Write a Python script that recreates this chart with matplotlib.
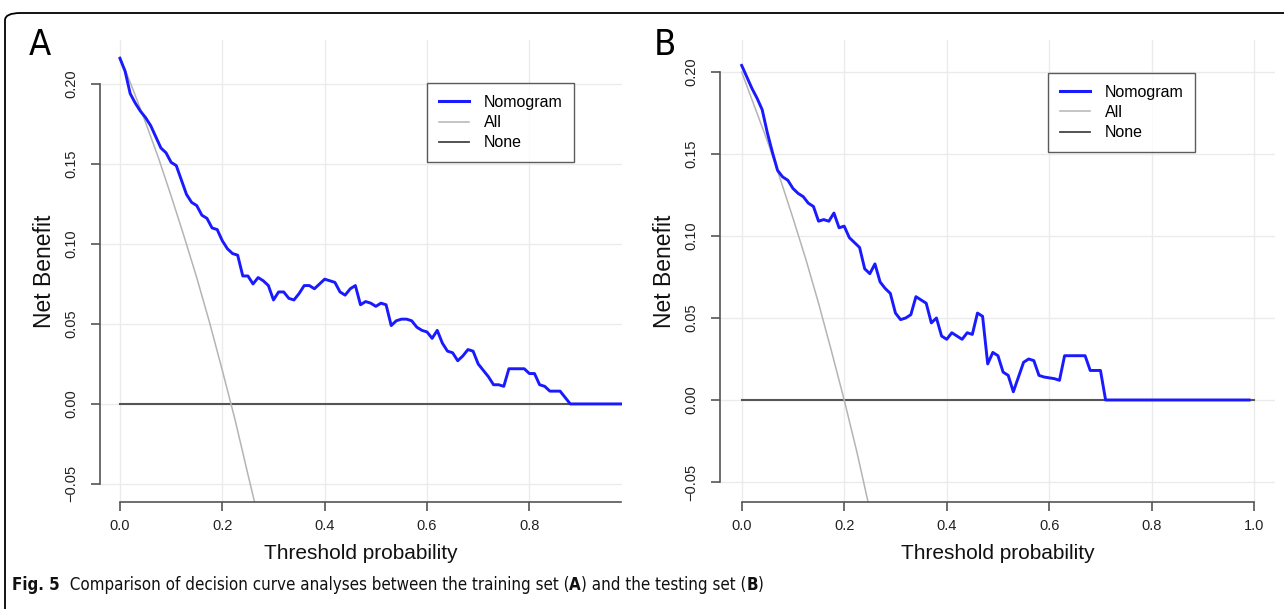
import numpy as np
import matplotlib.pyplot as plt
from matplotlib.patches import FancyBboxPatch
from matplotlib.lines import Line2D

plt.rcParams['font.family'] = ['Liberation Sans', 'DejaVu Sans']

#________________________ data : training set (A) ______________________________#
a_x = [0.00, 0.01, 0.02, 0.03, 0.04, 0.05, 0.06, 0.07, 0.08, 0.09,
       0.10, 0.11, 0.12, 0.13, 0.14, 0.15, 0.16, 0.17, 0.18, 0.19,
       0.20, 0.21, 0.22, 0.23, 0.24, 0.25, 0.26, 0.27, 0.28, 0.29,
       0.30, 0.31, 0.32, 0.33, 0.34, 0.35, 0.36, 0.37, 0.38, 0.39,
       0.40, 0.41, 0.42, 0.43, 0.44, 0.45, 0.46, 0.47, 0.48, 0.49,
       0.50, 0.51, 0.52, 0.53, 0.54, 0.55, 0.56, 0.57, 0.58, 0.59,
       0.60, 0.61, 0.62, 0.63, 0.64, 0.65, 0.66, 0.67, 0.68, 0.69,
       0.70, 0.71, 0.72, 0.73, 0.74, 0.75, 0.76, 0.77, 0.78, 0.79,
       0.80, 0.81, 0.82, 0.83, 0.84, 0.85, 0.86, 0.87, 0.88, 0.98]
a_nomogram = [0.216, 0.208, 0.194, 0.188, 0.183, 0.179, 0.174, 0.167, 0.160, 0.157,
              0.151, 0.149, 0.140, 0.131, 0.126, 0.124, 0.118, 0.116, 0.110, 0.109,
              0.102, 0.097, 0.094, 0.093, 0.080, 0.080, 0.075, 0.079, 0.077, 0.074,
              0.065, 0.070, 0.070, 0.066, 0.065, 0.069, 0.074, 0.074, 0.072, 0.075,
              0.078, 0.077, 0.076, 0.070, 0.068, 0.072, 0.074, 0.062, 0.064, 0.063,
              0.061, 0.063, 0.062, 0.049, 0.052, 0.053, 0.053, 0.052, 0.048, 0.046,
              0.045, 0.041, 0.046, 0.038, 0.033, 0.032, 0.027, 0.030, 0.034, 0.033,
              0.025, 0.021, 0.017, 0.012, 0.012, 0.011, 0.022, 0.022, 0.022, 0.022,
              0.019, 0.019, 0.012, 0.011, 0.008, 0.008, 0.008, 0.004, 0.000, 0.000]
a_all_x = [0.000, 0.025, 0.050, 0.075, 0.100, 0.125, 0.150, 0.175, 0.200, 0.225, 0.250, 0.280]
a_all_y = [0.217, 0.197, 0.176, 0.154, 0.130, 0.105, 0.079, 0.051, 0.021, -0.010, -0.044, -0.084]
a_xmax = 0.98

#________________________ data : testing set (B) ______________________________#
b_x = [0.00, 0.01, 0.02, 0.03, 0.04, 0.05, 0.06, 0.07, 0.08, 0.09,
       0.10, 0.11, 0.12, 0.13, 0.14, 0.15, 0.16, 0.17, 0.18, 0.19,
       0.20, 0.21, 0.22, 0.23, 0.24, 0.25, 0.26, 0.27, 0.28, 0.29,
       0.30, 0.31, 0.32, 0.33, 0.34, 0.35, 0.36, 0.37, 0.38, 0.39,
       0.40, 0.41, 0.42, 0.43, 0.44, 0.45, 0.46, 0.47, 0.48, 0.49,
       0.50, 0.51, 0.52, 0.53, 0.54, 0.55, 0.56, 0.57, 0.58, 0.59,
       0.60, 0.61, 0.62, 0.63, 0.64, 0.65, 0.66, 0.67, 0.68, 0.69,
       0.70, 0.71, 0.99]
b_nomogram = [0.204, 0.197, 0.190, 0.184, 0.177, 0.163, 0.151, 0.140, 0.136, 0.134,
              0.129, 0.126, 0.124, 0.120, 0.118, 0.109, 0.110, 0.109, 0.114, 0.105,
              0.106, 0.099, 0.096, 0.093, 0.080, 0.077, 0.083, 0.072, 0.068, 0.065,
              0.053, 0.049, 0.050, 0.052, 0.063, 0.061, 0.059, 0.047, 0.050, 0.039,
              0.037, 0.041, 0.039, 0.037, 0.041, 0.040, 0.053, 0.051, 0.022, 0.029,
              0.027, 0.017, 0.015, 0.005, 0.014, 0.023, 0.025, 0.024, 0.015, 0.014,
              0.0135, 0.013, 0.012, 0.027, 0.027, 0.027, 0.027, 0.027, 0.018, 0.018,
              0.018, 0.000, 0.000]
b_all_x = [0.000, 0.025, 0.050, 0.075, 0.100, 0.125, 0.150, 0.175, 0.200, 0.225, 0.250, 0.280]
b_all_y = [0.200, 0.179, 0.158, 0.135, 0.111, 0.086, 0.059, 0.030, 0.000, -0.032, -0.067, -0.111]
b_xmax = 1.0

x_ticks = [0.0, 0.2, 0.4, 0.6, 0.8, 1.0]
y_ticks = [-0.05, 0.00, 0.05, 0.10, 0.15, 0.20]
legend_labels = ['Nomogram', 'All', 'None']

fig = plt.figure(figsize=(12.84, 6.09), dpi=100)
W, H = 1284, 609


def panel(rect, xs, ys, all_x, all_y, xmax, xlim, ylim, letter, letter_x, leg_loc):
    ax = fig.add_axes(rect)
    ax.set_xlim(xlim)
    ax.set_ylim(ylim)
    xt = [t for t in x_ticks if t <= xmax + 1e-9]
    # grid
    for t in xt:
        ax.axvline(t, color='#ebebeb', lw=1, zorder=0)
    for t in y_ticks:
        ax.axhline(t, color='#ebebeb', lw=1, zorder=0)
    # curves
    ax.plot([0, xmax], [0, 0], color='#555555', lw=1.5, zorder=2)
    ax.plot(all_x, all_y, color='#b4b4b4', lw=1.1, zorder=2)
    ax.plot(xs, ys, color='#1a1aff', lw=2.1, zorder=3)
    # axes in R style
    for s in ['top', 'right']:
        ax.spines[s].set_visible(False)
    ax.spines['left'].set_bounds(-0.05, 0.20)
    ax.spines['bottom'].set_bounds(0, xmax)
    for s in ['left', 'bottom']:
        ax.spines[s].set_color('#555555')
        ax.spines[s].set_linewidth(1.2)
    ax.set_xticks(xt)
    ax.set_xticklabels(['%.1f' % t for t in xt])
    ax.set_yticks(y_ticks)
    ax.set_yticklabels(['%.2f' % t if t >= 0 else '\u22120.05' for t in y_ticks],
                       rotation=90, va='center')
    ax.tick_params(axis='both', length=6.5, width=1.2, color='#555555',
                   labelsize=10.5, labelcolor='#222222')
    ax.tick_params(axis='x', pad=6)
    ax.tick_params(axis='y', pad=9)
    ax.set_xlabel('Threshold probability', fontsize=15, labelpad=8, color='#111111')
    ax.set_ylabel('Net Benefit', fontsize=16.5, labelpad=6, color='#111111')
    # legend
    handles = [Line2D([], [], color='#1a1aff', lw=2.2),
               Line2D([], [], color='#b4b4b4', lw=1.1),
               Line2D([], [], color='#444444', lw=1.3)]
    leg = ax.legend(handles, legend_labels, loc='upper left', bbox_to_anchor=leg_loc,
                    fontsize=11.5, frameon=True, fancybox=False, handlelength=1.9,
                    handletextpad=0.9, labelspacing=0.32, borderpad=0.75,
                    borderaxespad=0)
    leg.get_frame().set_edgecolor('#333333')
    leg.get_frame().set_linewidth(1.0)
    # panel letter
    fig.text(letter_x / W, 1 - 45 / H, letter, fontsize=26, va='center', ha='center',
             color='black', family='DejaVu Sans', fontstretch='condensed')
    return ax


# panel A : pixels left 100, right 622, top 40, bottom 502
panel([100 / W, 1 - 502 / H, 522 / W, 462 / H], a_x, a_nomogram, a_all_x, a_all_y,
      a_xmax, (-0.039, 0.981), (-0.0613, 0.2275), 'A', 40,
      ((427 - 100) / 522, (502 - 83) / 462))

# panel B : pixels left 720, right 1275, top 40, bottom 502
panel([720 / W, 1 - 502 / H, 555 / W, 462 / H], b_x, b_nomogram, b_all_x, b_all_y,
      b_xmax, (-0.0423, 1.0405), (-0.0622, 0.2195), 'B', 665,
      ((1048 - 720) / 555, (502 - 73) / 462))

# frame round the figure
frame = FancyBboxPatch((5 / W, -0.2), 1.2, 1 - 13 / H + 0.2,
                       boxstyle='round,pad=0,rounding_size=0.012',
                       transform=fig.transFigure, fill=False, edgecolor='black',
                       lw=1.3, clip_on=False)
fig.patches.append(frame)

# caption with bold parts
parts = [('Fig. 5', 'bold'), ('  Comparison of decision curve analyses between the training set (', 'normal'),
         ('A', 'bold'), (') and the testing set (', 'normal'), ('B', 'bold'), (')', 'normal')]
fig.canvas.draw()
renderer = fig.canvas.get_renderer()
x = 12
for txt, w in parts:
    t = fig.text(x / W, 1 - 585 / H, txt, fontsize=12.2, fontweight=w, va='center',
                 ha='left', color='#111111', family='DejaVu Sans',
                 fontstretch='condensed')
    x += t.get_window_extent(renderer).width

fig.savefig('out.png', dpi=100)
